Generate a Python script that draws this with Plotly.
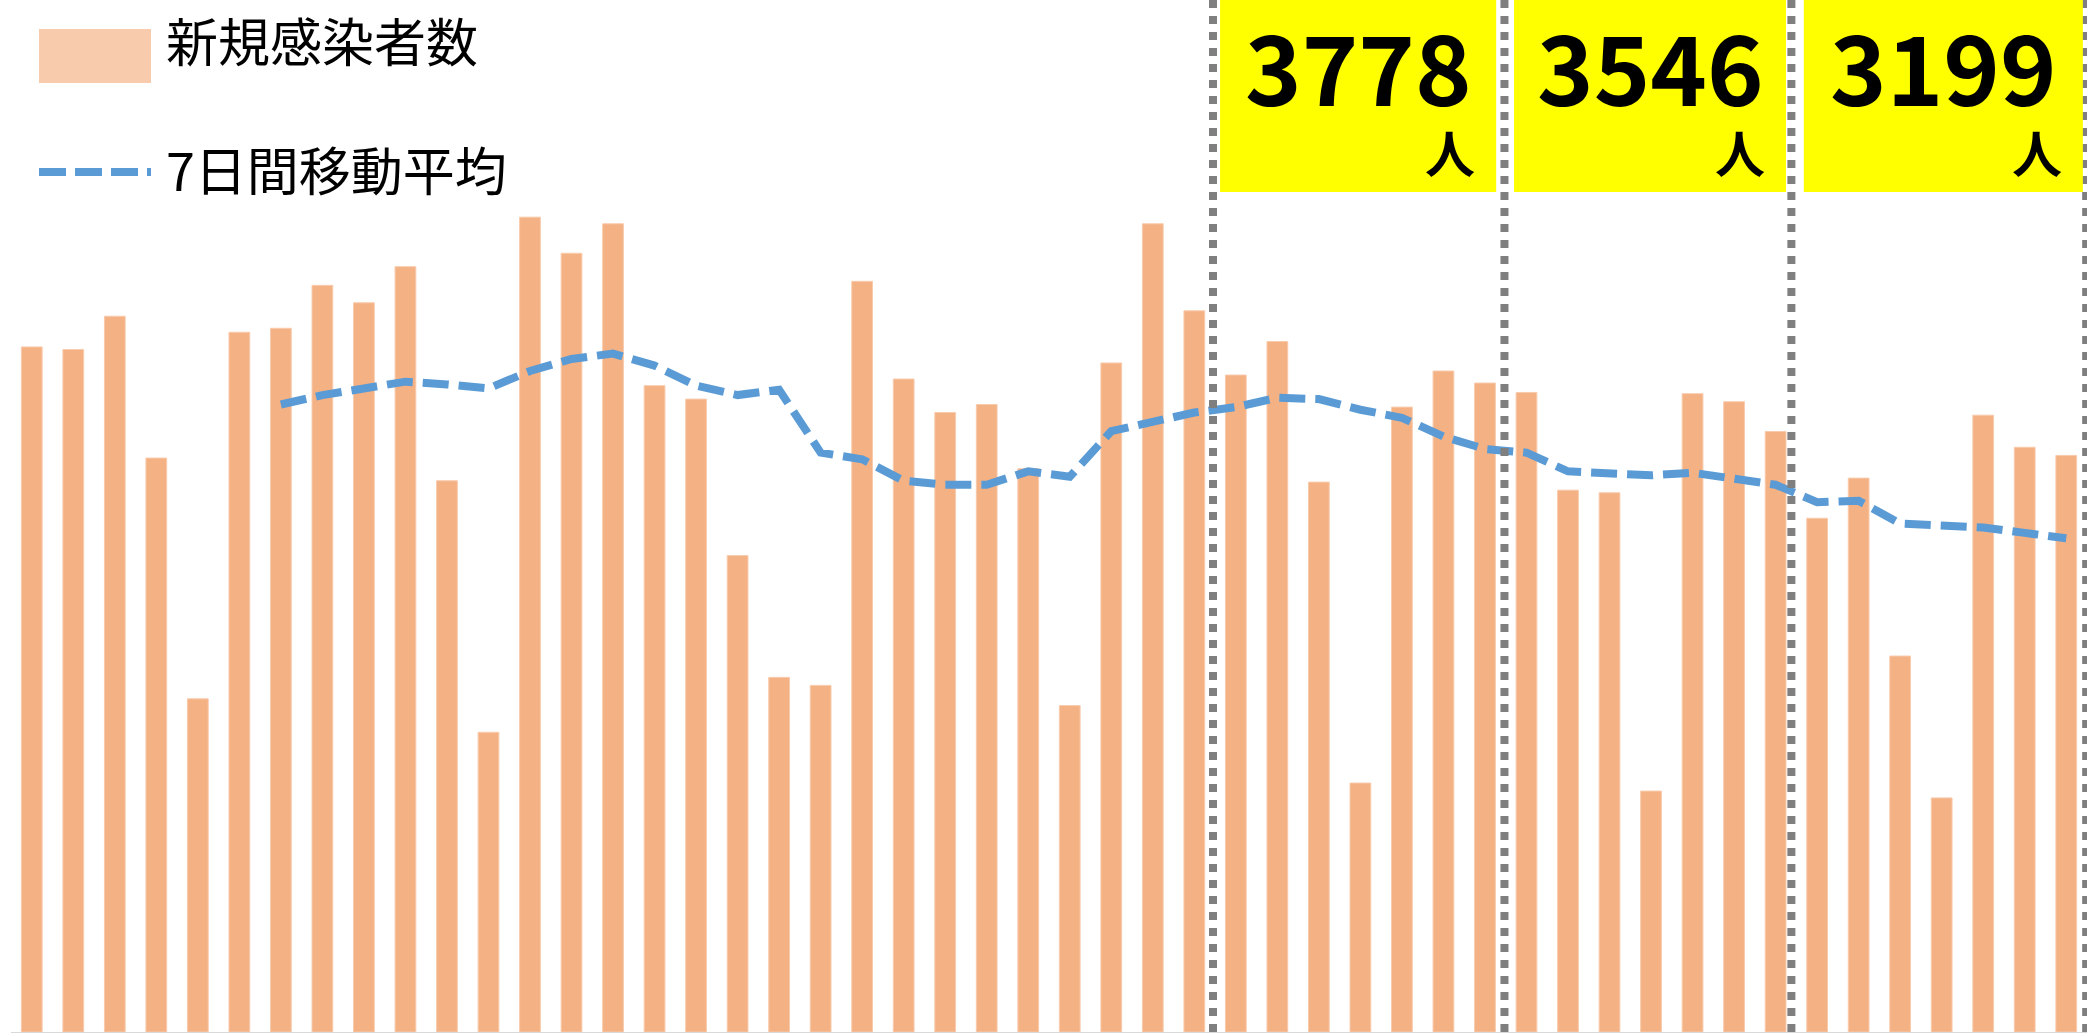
import plotly.graph_objects as go

# ---- data ----
days = list(range(50))
new_cases = [4439, 4422, 4638, 3719, 2159, 4534, 4560, 4838, 4725, 4959,
             3572, 1942, 5280, 5046, 5237, 4188, 4101, 3087, 2298, 2246,
             4864, 4231, 4014, 4066, 3650, 2115, 4335, 5237, 4673, 4257,
             4474, 3563, 1613, 4049, 4283, 4205, 4144, 3511, 3494, 1561,
             4136, 4084, 3891, 3329, 3589, 2436, 1517, 3997, 3789, 3736]
ma_days = list(range(6, 50))
ma7 = [4066, 4127, 4170, 4214, 4196, 4170, 4283, 4361, 4396, 4318,
       4188, 4127, 4162, 3754, 3711, 3572, 3546, 3546, 3633, 3598,
       3893, 3954, 4014, 4049, 4110, 4101, 4032, 3980, 3858, 3778,
       3754, 3633, 3615, 3607, 3624, 3581, 3546, 3433, 3442, 3295,
       3286, 3269, 3234, 3199]
week_bounds = [28.45, 35.47, 42.38, 49.48]
box_ranges = [(28.62, 35.27), (35.70, 42.25), (42.68, 49.40)]
box_labels = ["3778", "3546", "3199"]
legend_bar = "新規感染者数"
legend_line = "7日間移動平均"

W, H = 2098, 1033
L, R, T, B = 11, 11, 0, 1
PW, PH = W - L - R, H - T - B

def px_x(p):
    return (p - L) / PW

def px_y(p):
    return 1 - (p - T) / PH

BAR = "#F4B183"
BLUE = "#5B9BD5"
FONT = "Noto Sans CJK JP"

fig = go.Figure()
fig.add_trace(go.Bar(x=days, y=new_cases, marker=dict(color=BAR, line=dict(color="#F8CBAD", width=1)),
                     showlegend=False))
fig.add_trace(go.Scatter(x=ma_days, y=ma7, mode="lines",
                         line=dict(color=BLUE, width=8, dash="26px,10px"), showlegend=False))

shapes = []
for xb in week_bounds:
    shapes.append(dict(type="line", xref="x", yref="paper", x0=xb, x1=xb, y0=0, y1=1,
                       line=dict(color="#7F7F7F", width=8, dash="8px,8px"), layer="above"))
annotations = []
for (a, b), lab in zip(box_ranges, box_labels):
    shapes.append(dict(type="rect", xref="x", yref="paper", x0=a, x1=b, y0=px_y(192), y1=1.05,
                       fillcolor="#FFFF00", line=dict(width=0), layer="above"))
    annotations.append(dict(xref="x", yref="paper", x=(a + b) / 2, y=px_y(64), text="<b>%s</b>" % lab,
                            showarrow=False, xanchor="center", yanchor="middle",
                            font=dict(family=FONT, size=96, color="black")))
    annotations.append(dict(xref="x", yref="paper", x=b - 0.45, y=px_y(151), text="<b>人</b>",
                            showarrow=False, xanchor="right", yanchor="middle",
                            font=dict(family=FONT, size=50, color="black")))

# legend drawn manually
shapes.append(dict(type="rect", xref="paper", yref="paper", x0=px_x(39), x1=px_x(151),
                   y0=px_y(83), y1=px_y(29), fillcolor="#F8CBAD", line=dict(width=0)))
shapes.append(dict(type="line", xref="paper", yref="paper", x0=px_x(39), x1=px_x(151),
                   y0=px_y(172), y1=px_y(172), line=dict(color=BLUE, width=8, dash="27px,9px")))
annotations.append(dict(xref="paper", yref="paper", x=px_x(164), y=px_y(40), text=legend_bar,
                        showarrow=False, xanchor="left", yanchor="middle",
                        font=dict(family=FONT, size=52, color="black")))
annotations.append(dict(xref="paper", yref="paper", x=px_x(164), y=px_y(168), text=legend_line,
                        showarrow=False, xanchor="left", yanchor="middle",
                        font=dict(family=FONT, size=52, color="black")))

fig.update_layout(
    width=W, height=H, margin=dict(l=L, r=R, t=T, b=B),
    paper_bgcolor="white", plot_bgcolor="white",
    bargap=0.5, shapes=shapes, annotations=annotations,
    xaxis=dict(range=[-0.5, 49.5], showticklabels=False, showgrid=False, zeroline=False,
               showline=True, linecolor="#D9D9D9", linewidth=1, ticks=""),
    yaxis=dict(range=[0, 6687], showticklabels=False, showgrid=False, zeroline=False, showline=False),
)
fig.write_html("out.html", config={"displayModeBar": False},
               post_script="document.body.style.margin='0';document.body.style.overflow='hidden';")
